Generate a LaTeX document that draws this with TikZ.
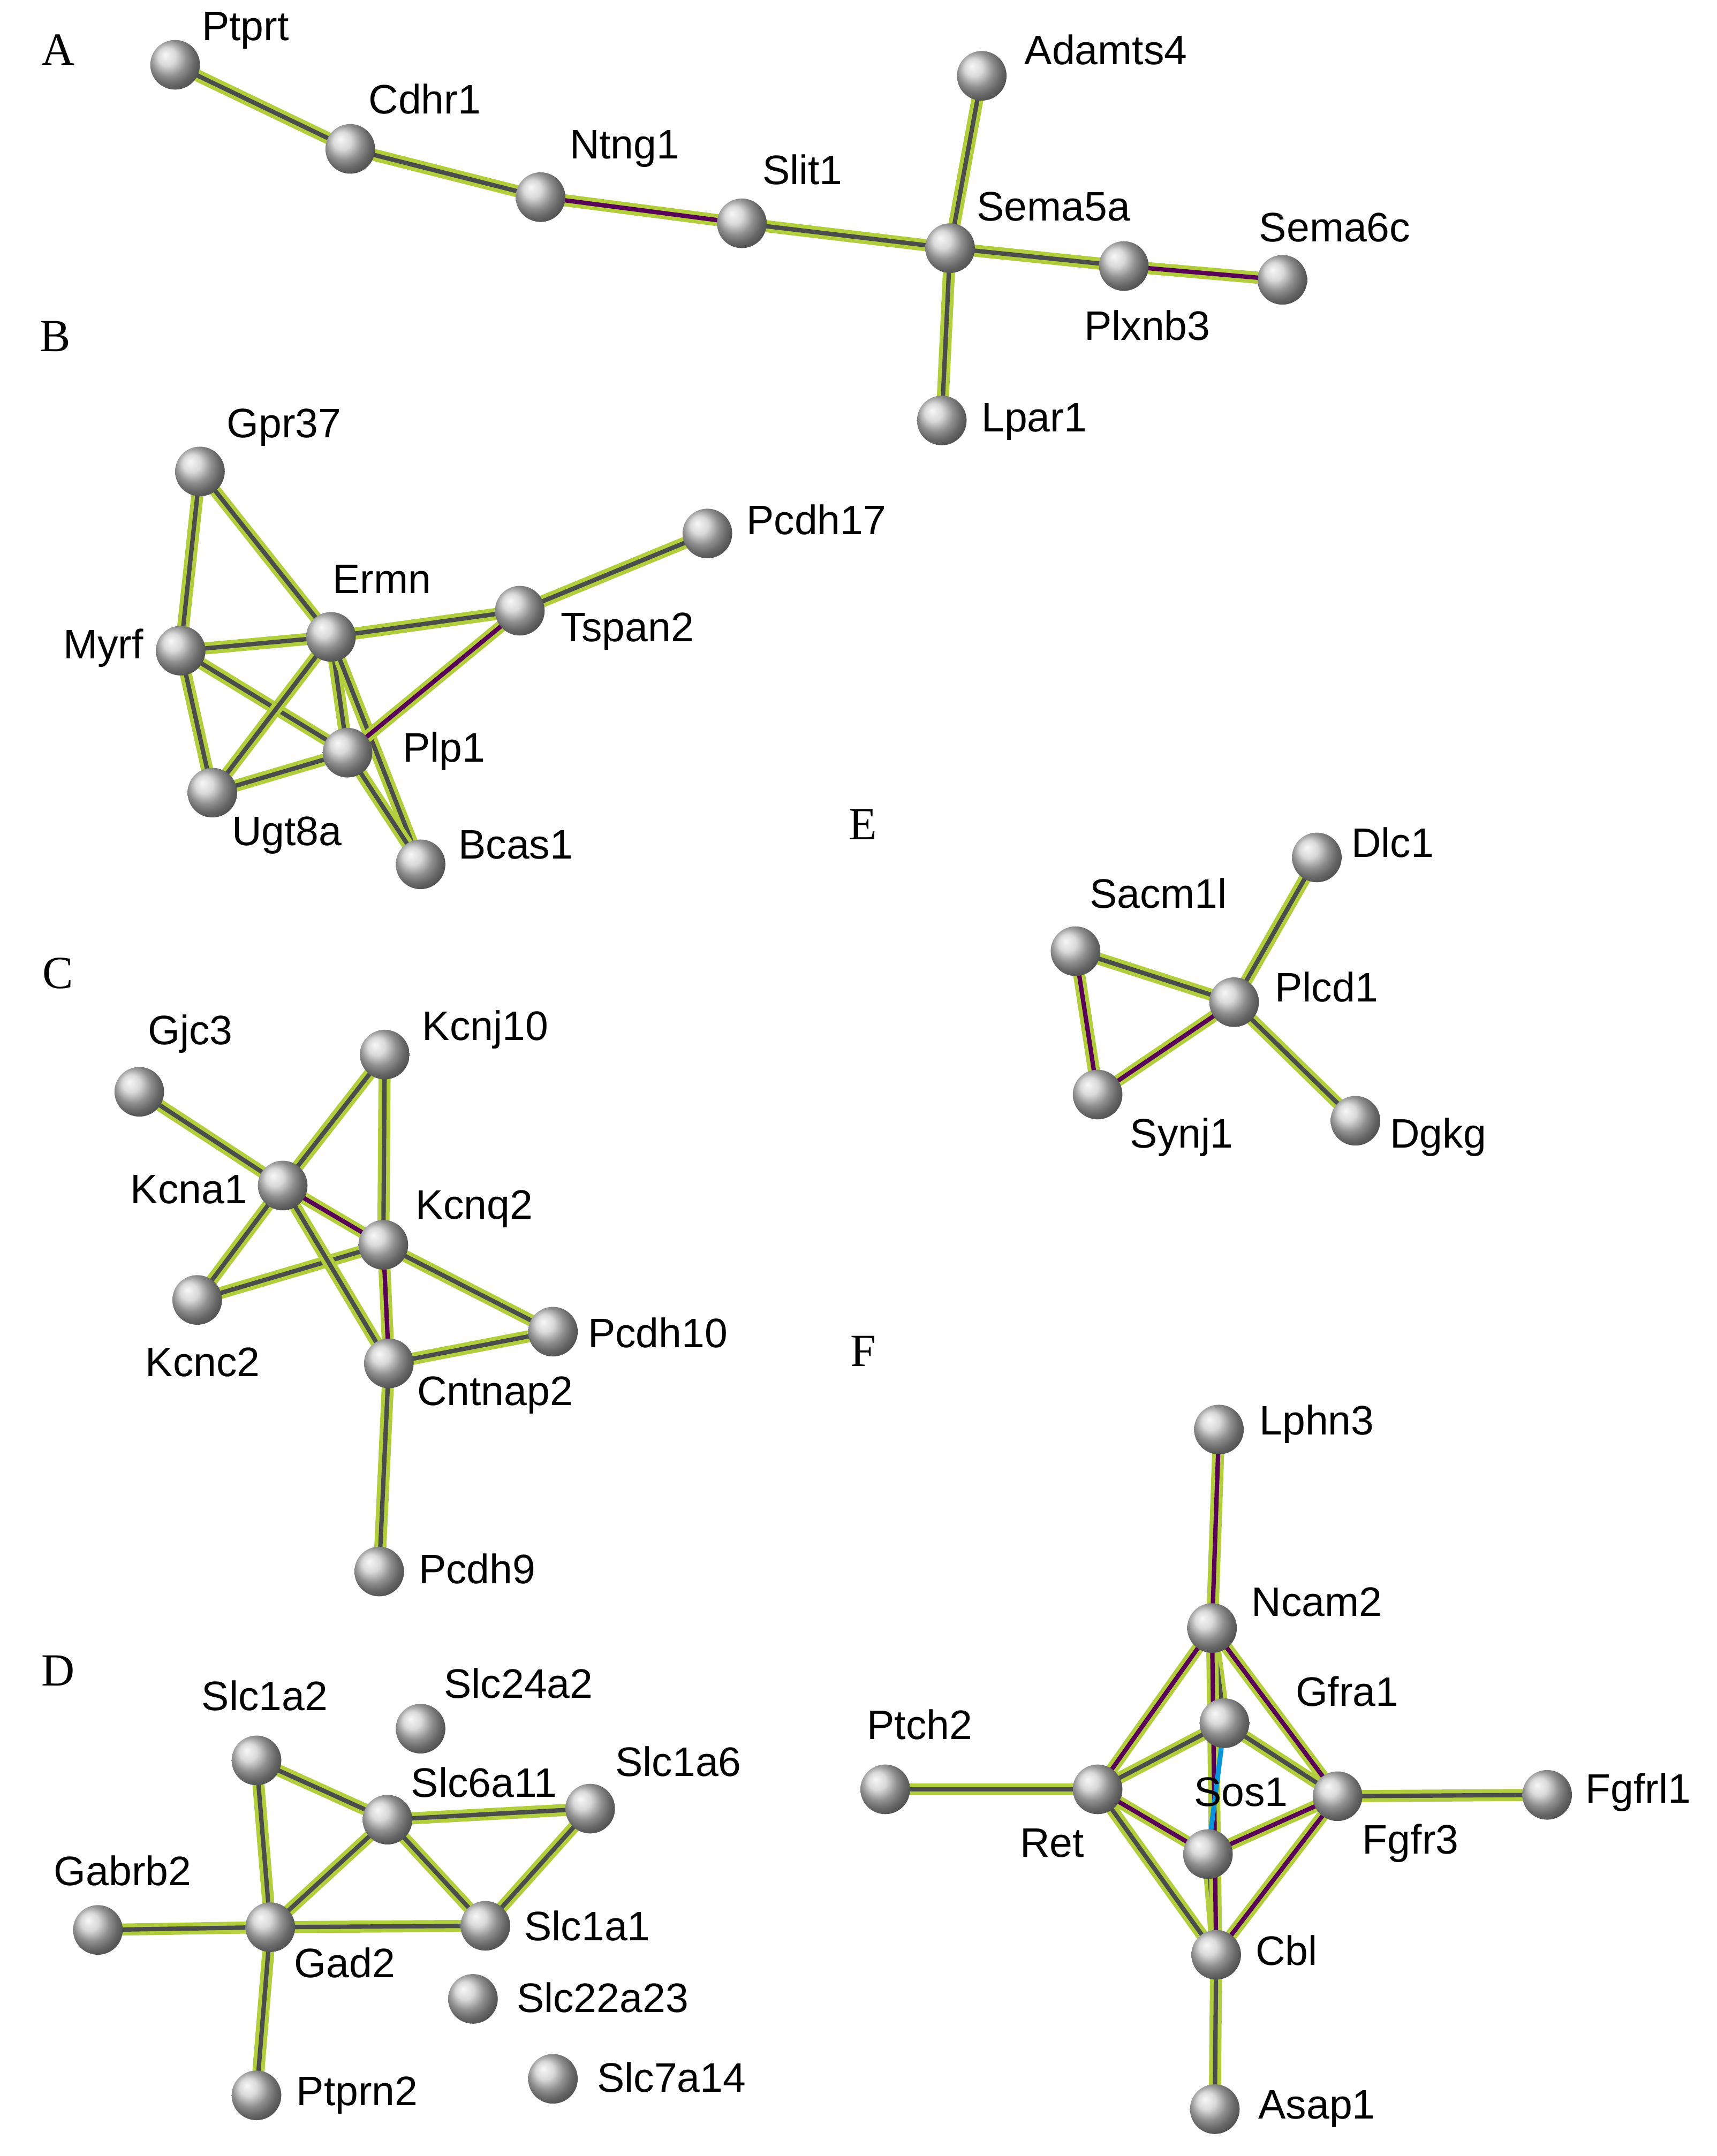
\documentclass[tikz,border=0pt]{standalone}
\usepackage{fontspec}
\setmainfont{Liberation Sans}
\newfontfamily\serifA{Liberation Serif}
\begin{document}
\begin{tikzpicture}[x=0.02cm,y=-0.02cm,
 gn/.style={circle,minimum size=0.72cm,inner sep=0pt,ball color=gray!40,shading=ball},
 lb/.style={font=\fontsize{17}{20}\selectfont},
 pl/.style={font=\serifA\fontsize{19}{22}\selectfont},
 eg/.style={preaction={draw=yellowgreen,line width=5pt},draw=black!70,line width=1.8pt},
 ep/.style={preaction={draw=yellowgreen,line width=5pt},draw=violet!70!black,line width=1.8pt},
 ec/.style={draw=cyan!80!blue,line width=2pt}]
\definecolor{yellowgreen}{RGB}{178,206,60}
\useasboundingbox (0,0) rectangle (1245,1564);
\node[pl] at (42,36) {A}; \node[pl] at (40,244) {B}; \node[pl] at (42,706) {C};
\node[pl] at (42,1212) {D}; \node[pl] at (626,598) {E}; \node[pl] at (626,980) {F};
\foreach \n/\x/\y in {Ptprt/127/47,Cdhr1/254/108,Ntng1/392/143,Slit1/538/162,Sema5a/689/180,Adamts4/712/55,Plxnb3/815/193,Sema6c/930/203,Lpar1/683/305,
Gpr37/145/342,Ermn/240/462,Myrf/131/472,Tspan2/377/443,Pcdh17/513/387,Plp1/252/546,Ugt8a/154/575,Bcas1/305/627,
Gjc3/101/792,Kcnj10/279/765,Kcna1/205/860,Kcnq2/278/903,Kcnc2/143/943,Pcdh10/401/966,Cntnap2/282/989,Pcdh9/275/1140,
Slc1a2/186/1277,Slc24a2/305/1254,Slc6a11/281/1320,Slc1a6/428/1312,Gabrb2/71/1400,Gad2/196/1398,Slc1a1/352/1397,Slc22a23/343/1450,Slc7a14/401/1508,Ptprn2/186/1520,
Dlc1/955/622,Sacm1l/780/690,Plcd1/895/727,Synj1/796/794,Dgkg/983/813,
Lphn3/884/1037,Ncam2/879/1181,Gfra1/888/1250,Ptch2/642/1298,Ret/796/1298,Sos1/876/1345,Fgfr3/970/1303,Fgfrl1/1122/1302,Cbl/882/1418,Asap1/881/1530}
 {\coordinate (\n) at (\x,\y);}
\foreach \a/\b in {Ptprt/Cdhr1,Cdhr1/Ntng1,Slit1/Sema5a,Sema5a/Adamts4,Sema5a/Plxnb3,Sema5a/Lpar1,
Gpr37/Myrf,Gpr37/Ermn,Myrf/Ermn,Myrf/Plp1,Myrf/Ugt8a,Ermn/Ugt8a,Ermn/Plp1,Ermn/Bcas1,Ermn/Tspan2,Plp1/Ugt8a,Plp1/Bcas1,Tspan2/Pcdh17,
Gjc3/Kcna1,Kcnj10/Kcna1,Kcnj10/Kcnq2,Kcna1/Kcnc2,Kcnq2/Kcnc2,Kcna1/Cntnap2,Kcnq2/Pcdh10,Cntnap2/Pcdh10,Cntnap2/Pcdh9,
Slc1a2/Slc6a11,Slc1a2/Gad2,Slc6a11/Slc1a6,Slc6a11/Slc1a1,Slc6a11/Gad2,Slc1a6/Slc1a1,Gabrb2/Gad2,Gad2/Slc1a1,Gad2/Ptprn2,
Dlc1/Plcd1,Sacm1l/Plcd1,Plcd1/Dgkg,
Ncam2/Gfra1,Gfra1/Ret,Gfra1/Fgfr3,Ptch2/Ret,Ret/Cbl,Sos1/Cbl,Fgfr3/Fgfrl1,Cbl/Asap1}
 {\path[eg] (\a) -- (\b);}
\foreach \a/\b in {Ntng1/Slit1,Plxnb3/Sema6c,Plp1/Tspan2,Kcna1/Kcnq2,Kcnq2/Cntnap2,Sacm1l/Synj1,Synj1/Plcd1,
Lphn3/Ncam2,Ncam2/Ret,Ncam2/Fgfr3,Ncam2/Cbl,Ret/Sos1,Sos1/Fgfr3,Fgfr3/Cbl}
 {\path[ep] (\a) -- (\b);}
\path[ec] (Gfra1) -- (Sos1);
\foreach \n in {Ptprt,Cdhr1,Ntng1,Slit1,Sema5a,Adamts4,Plxnb3,Sema6c,Lpar1,
Gpr37,Ermn,Myrf,Tspan2,Pcdh17,Plp1,Ugt8a,Bcas1,
Gjc3,Kcnj10,Kcna1,Kcnq2,Kcnc2,Pcdh10,Cntnap2,Pcdh9,
Slc1a2,Slc24a2,Slc6a11,Slc1a6,Gabrb2,Gad2,Slc1a1,Slc22a23,Slc7a14,Ptprn2,
Dlc1,Sacm1l,Plcd1,Synj1,Dgkg,
Lphn3,Ncam2,Gfra1,Ptch2,Ret,Sos1,Fgfr3,Fgfrl1,Cbl,Asap1}
 {\node[gn] (n\n) at (\n) {};}
\foreach \n/\x/\y in {Ptprt/178/22,Cdhr1/308/72,Ntng1/453/108,Slit1/582/123,Sema5a/764/150,Adamts4/802/36,Plxnb3/832/236,Sema6c/968/165,Lpar1/750/306,
Gpr37/206/310,Ermn/277/420,Myrf/75/470,Tspan2/455/458,Pcdh17/592/377,Plp1/322/545,Ugt8a/208/606,Bcas1/374/613,
Gjc3/138/750,Kcnj10/352/747,Kcna1/137/863,Kcnq2/344/877,Kcnc2/147/988,Pcdh10/477/967,Cntnap2/359/1012,Pcdh9/346/1138,
Slc1a2/192/1230,Slc24a2/376/1221,Slc6a11/351/1293,Slc1a6/492/1278,Gabrb2/89/1357,Gad2/250/1424,Slc1a1/426/1397,Slc22a23/437/1449,Slc7a14/487/1507,Ptprn2/259/1520,
Dlc1/1010/611,Sacm1l/840/648,Plcd1/962/716,Synj1/857/825,Dgkg/1043/825,
Lphn3/955/1033,Ncam2/955/1162,Gfra1/977/1227,Ptch2/667/1251,Ret/763/1337,Sos1/900/1300,Fgfr3/1023/1337,Fgfrl1/1188/1300,Cbl/933/1415,Asap1/955/1530}
 {\node[lb] (l\n) at (\x,\y) {\n};}
\end{tikzpicture}
\end{document}
